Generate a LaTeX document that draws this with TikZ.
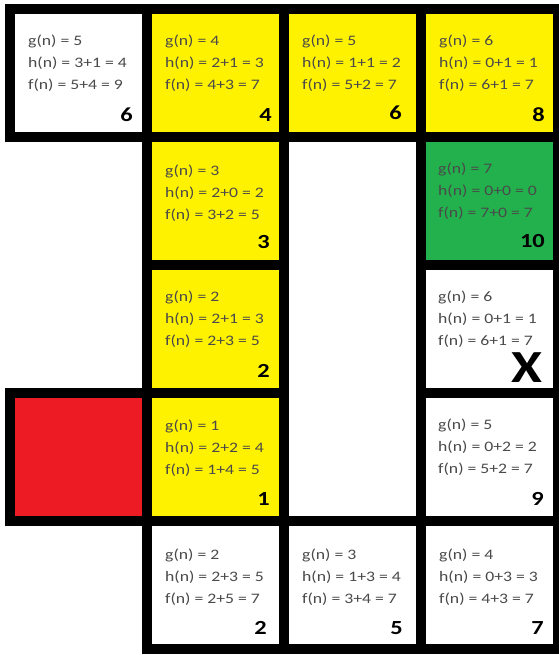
\documentclass[tikz,border=0pt]{standalone}
\usepackage{fontspec}
\setmainfont{Carlito}
\newfontfamily\cellfont[FakeStretch=1.22]{Carlito}
\usetikzlibrary{positioning}
\definecolor{openyellow}{HTML}{FFF200}
\definecolor{goalgreen}{HTML}{22B14C}
\definecolor{startred}{HTML}{ED1C24}
\definecolor{costgray}{HTML}{4A4A4A}

\begin{document}
\begin{tikzpicture}[x=1pt,y=-1pt,
    cell/.style={draw,line width=10pt,minimum width=137pt,minimum height=128pt,inner sep=0pt,outer sep=0pt},
    cost/.style={align=left,inner sep=0pt,text=costgray,font=\cellfont\fontsize{14.5}{22}\selectfont},
    order/.style={inner sep=0pt,font=\cellfont\bfseries\fontsize{20}{20}\selectfont}]
  \useasboundingbox (0,0) rectangle (558,655);

  % row 1
  \node[cell,fill=white] (c11) at (78.5,73) {};
  \node[cell,fill=openyellow] (c12) at (215.5,73) {};
  \node[cell,fill=openyellow] (c13) at (352.5,73) {};
  \node[cell,fill=openyellow] (c14) at (489.5,73) {};
  % rows 2-4
  \node[cell,fill=openyellow] (c22) at (215.5,201) {};
  \node[cell,fill=white,minimum height=384pt] (wall) at (352.5,329) {};
  \node[cell,fill=goalgreen] (c24) at (489.5,201) {};
  \node[cell,fill=openyellow] (c32) at (215.5,329) {};
  \node[cell,fill=white] (c34) at (489.5,329) {};
  \node[cell,fill=startred] (c41) at (78.5,457) {};
  \node[cell,fill=openyellow] (c42) at (215.5,457) {};
  \node[cell,fill=white] (c44) at (489.5,457) {};
  % row 5
  \node[cell,fill=white] (c52) at (215.5,585) {};
  \node[cell,fill=white] (c53) at (352.5,585) {};
  \node[cell,fill=white] (c54) at (489.5,585) {};

  % costs
  \node[cost,below right=26pt and 18pt of c11.north west] (t11) {g(n) = 5\\h(n) = 3+1 = 4\\f(n) = 5+4 = 9};
  \node[cost,below right=26pt and 18pt of c12.north west] (t12) {g(n) = 4\\h(n) = 2+1 = 3\\f(n) = 4+3 = 7};
  \node[cost,below right=26pt and 18pt of c13.north west] (t13) {g(n) = 5\\h(n) = 1+1 = 2\\f(n) = 5+2 = 7};
  \node[cost,below right=26pt and 18pt of c14.north west] (t14) {g(n) = 6\\h(n) = 0+1 = 1\\f(n) = 6+1 = 7};
  \node[cost,below right=28pt and 18pt of c22.north west] (t22) {g(n) = 3\\h(n) = 2+0 = 2\\f(n) = 3+2 = 5};
  \node[cost,below right=26pt and 17pt of c24.north west] (t24) {g(n) = 7\\h(n) = 0+0 = 0\\f(n) = 7+0 = 7};
  \node[cost,below right=26pt and 18pt of c32.north west] (t32) {g(n) = 2\\h(n) = 2+1 = 3\\f(n) = 2+3 = 5};
  \node[cost,below right=26pt and 17pt of c34.north west] (t34) {g(n) = 6\\h(n) = 0+1 = 1\\f(n) = 6+1 = 7};
  \node[cost,below right=27pt and 18pt of c42.north west] (t42) {g(n) = 1\\h(n) = 2+2 = 4\\f(n) = 1+4 = 5};
  \node[cost,below right=26pt and 17pt of c44.north west] (t44) {g(n) = 5\\h(n) = 0+2 = 2\\f(n) = 5+2 = 7};
  \node[cost,below right=28pt and 18pt of c52.north west] (t52) {g(n) = 2\\h(n) = 2+3 = 5\\f(n) = 2+5 = 7};
  \node[cost,below right=28pt and 18pt of c53.north west] (t53) {g(n) = 3\\h(n) = 1+3 = 4\\f(n) = 3+4 = 7};
  \node[cost,below right=28pt and 18pt of c54.north west] (t54) {g(n) = 4\\h(n) = 0+3 = 3\\f(n) = 4+3 = 7};

  % expansion order
  \node[order,above left=15pt and 14pt of c11.south east] (n11) {6};
  \node[order,above left=15pt and 12pt of c12.south east] (n12) {4};
  \node[order,above left=17pt and 19pt of c13.south east] (n13) {6};
  \node[order,above left=15pt and 13pt of c14.south east] (n14) {8};
  \node[order,above left=16pt and 14pt of c22.south east] (n22) {3};
  \node[order,above left=17pt and 13pt of c24.south east] (n24) {10};
  \node[order,above left=15pt and 14pt of c32.south east] (n32) {2};
  \node[order,above left=10pt and 15pt of c34.south east,font=\cellfont\bfseries\fontsize{46}{46}\selectfont] (x34) {X};
  \node[order,above left=15pt and 14pt of c42.south east] (n42) {1};
  \node[order,above left=15pt and 14pt of c44.south east] (n44) {9};
  \node[order,above left=14pt and 17pt of c52.south east] (n52) {2};
  \node[order,above left=14pt and 18pt of c53.south east] (n53) {5};
  \node[order,above left=14pt and 14pt of c54.south east] (n54) {7};
\end{tikzpicture}
\end{document}
